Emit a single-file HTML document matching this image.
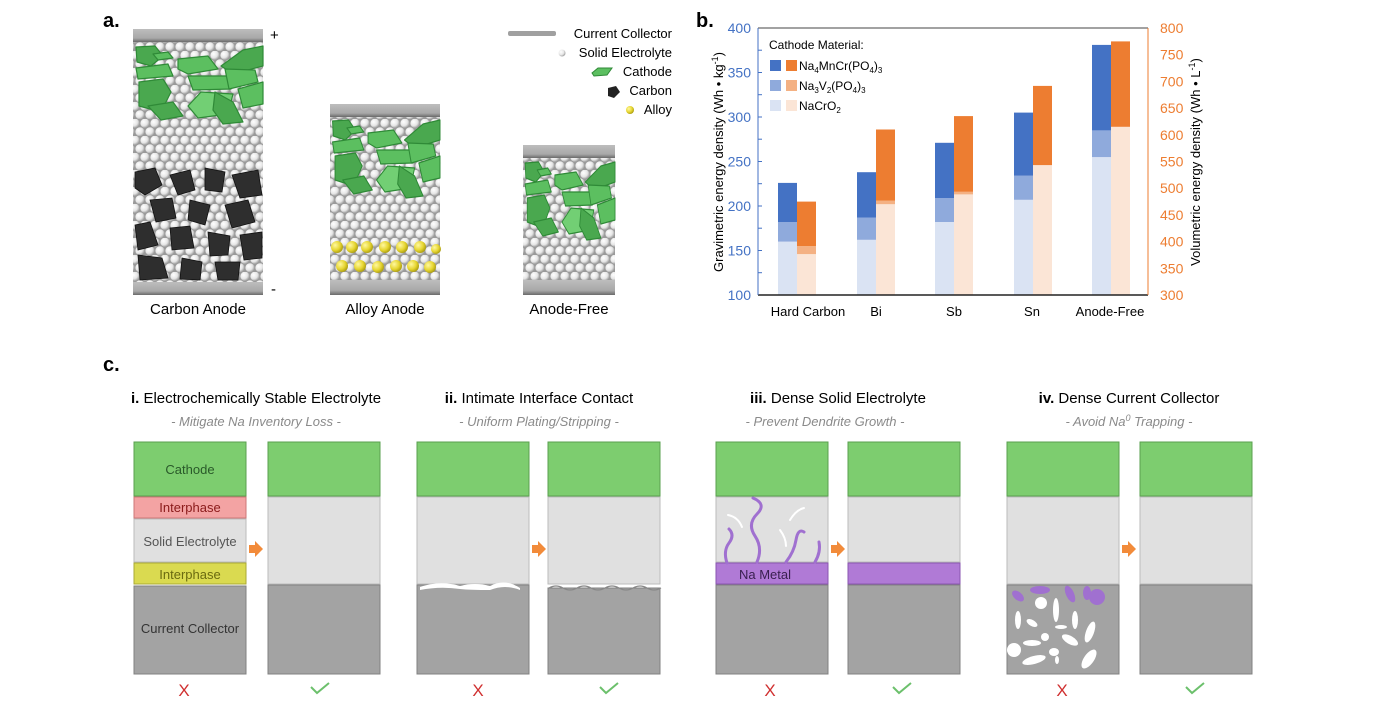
<!DOCTYPE html>
<html><head><meta charset="utf-8"><style>
html,body{margin:0;padding:0;background:#fff;}
svg{display:block;font-family:"Liberation Sans",Arial,sans-serif;}
</style></head><body>
<svg width="1380" height="712" viewBox="0 0 1380 712" xmlns="http://www.w3.org/2000/svg">
<defs>
<radialGradient id="ball" cx="0.35" cy="0.35" r="0.7"><stop offset="0" stop-color="#ffffff"/><stop offset="0.6" stop-color="#e6e6e6"/><stop offset="1" stop-color="#9a9a9a"/></radialGradient>
<radialGradient id="yball" cx="0.35" cy="0.35" r="0.7"><stop offset="0" stop-color="#fff8a0"/><stop offset="0.6" stop-color="#e6d530"/><stop offset="1" stop-color="#a89a10"/></radialGradient>
<pattern id="se" width="10" height="17" patternUnits="userSpaceOnUse">
<rect width="10" height="17" fill="#9a9a9a"/>
<circle cx="5" cy="4.3" r="4.6" fill="url(#ball)"/>
<circle cx="0" cy="12.8" r="4.6" fill="url(#ball)"/>
<circle cx="10" cy="12.8" r="4.6" fill="url(#ball)"/>
</pattern>
<linearGradient id="cc" x1="0" y1="0" x2="0" y2="1"><stop offset="0" stop-color="#bdbdbd"/><stop offset="0.7" stop-color="#a8a8a8"/><stop offset="1" stop-color="#6a6a6a"/></linearGradient>
<g id="cath" fill="#5cbf60" stroke="#2f8a37" stroke-width="1.2" stroke-linejoin="round">
<polygon points="3,3 22,2 30,12 18,22 4,18" fill="#4aa84f"/>
<polygon points="20,10 35,8 40,14 25,16"/>
<polygon points="45,15 75,12 85,25 55,30 45,25"/>
<polygon points="110,6 130,2 130,22 100,30 88,22" fill="#4aa84f"/>
<polygon points="3,24 35,20 40,32 5,35"/>
<polygon points="6,38 30,35 38,48 28,68 6,62" fill="#4aa84f"/>
<polygon points="55,32 95,32 98,45 60,46"/>
<polygon points="68,48 100,50 95,70 65,74 55,62" fill="#72cf74"/>
<polygon points="92,25 122,26 125,38 96,45"/>
<polygon points="82,48 100,58 110,78 90,80 80,66" fill="#4aa84f"/>
<polygon points="105,45 130,38 130,60 110,64"/>
<polygon points="15,62 40,58 50,72 28,76" fill="#4aa84f"/>
</g>
</defs>

<!-- Part a -->
<text x="103" y="27" font-size="20" font-weight="bold">a.</text>
<rect x="133" y="42" width="130" height="240" fill="url(#se)"/>
<use href="#cath" transform="translate(133,44)"/>
<g fill="#2e2e2e" stroke="#111" stroke-width="0.8">
<polygon points="135,172 155,168 162,185 145,195 135,188"/>
<polygon points="170,175 190,170 195,190 178,195"/>
<polygon points="205,168 225,172 222,192 205,190"/>
<polygon points="232,175 258,170 262,195 240,198"/>
<polygon points="150,200 172,198 176,218 156,222"/>
<polygon points="190,200 210,205 205,225 188,220"/>
<polygon points="225,205 248,200 255,222 232,228"/>
<polygon points="135,225 150,222 158,245 138,250"/>
<polygon points="170,228 190,226 194,248 172,250"/>
<polygon points="208,232 230,236 228,255 210,256"/>
<polygon points="240,235 262,232 262,258 244,260"/>
<polygon points="138,255 162,258 168,278 140,280"/>
<polygon points="182,258 202,262 200,280 180,279"/>
<polygon points="215,262 240,262 238,280 218,280"/>
</g>
<rect x="133" y="29" width="130" height="13" fill="url(#cc)"/>
<rect x="133" y="282" width="130" height="13" fill="url(#cc)"/>
<text x="270" y="40" font-size="15">+</text>
<text x="271" y="294" font-size="15">-</text>
<text x="198" y="314" font-size="15" text-anchor="middle">Carbon Anode</text>

<rect x="330" y="117" width="110" height="163" fill="url(#se)"/>
<use href="#cath" transform="translate(330,118) scale(0.846,1)"/>
<g fill="url(#yball)">
<circle cx="337" cy="247" r="6"/><circle cx="352" cy="247" r="6"/><circle cx="367" cy="247" r="6"/><circle cx="385" cy="247" r="6"/><circle cx="402" cy="247" r="6"/><circle cx="420" cy="247" r="6"/><circle cx="436" cy="249" r="5"/>
<circle cx="342" cy="266" r="6"/><circle cx="360" cy="266" r="6"/><circle cx="378" cy="267" r="6"/><circle cx="396" cy="266" r="6"/><circle cx="413" cy="266" r="6"/><circle cx="430" cy="267" r="6"/>
</g>
<rect x="330" y="104" width="110" height="13" fill="url(#cc)"/>
<rect x="330" y="280" width="110" height="15" fill="url(#cc)"/>
<text x="385" y="314" font-size="15" text-anchor="middle">Alloy Anode</text>

<rect x="523" y="158" width="92" height="122" fill="url(#se)"/>
<use href="#cath" transform="translate(523,160) scale(0.708,1)"/>
<rect x="523" y="145" width="92" height="13" fill="url(#cc)"/>
<rect x="523" y="280" width="92" height="15" fill="url(#cc)"/>
<text x="569" y="314" font-size="15" text-anchor="middle">Anode-Free</text>

<rect x="508" y="31" width="48" height="5" rx="2" fill="#a0a0a0"/>
<text x="672" y="38" font-size="13" text-anchor="end">Current Collector</text>
<circle cx="562" cy="53" r="3.5" fill="url(#ball)"/>
<text x="672" y="57" font-size="13" text-anchor="end">Solid Electrolyte</text>
<polygon points="592,73 598,68 612,68 607,75 594,76" fill="#5cbf60" stroke="#2f8a37"/>
<text x="672" y="76" font-size="13" text-anchor="end">Cathode</text>
<polygon points="608,88 616,86 620,92 614,98 608,96" fill="#222"/>
<text x="672" y="95" font-size="13" text-anchor="end">Carbon</text>
<circle cx="630" cy="110" r="4" fill="url(#yball)"/>
<text x="672" y="114" font-size="13" text-anchor="end">Alloy</text>

<!-- Part b chart -->
<text x="696" y="27" font-size="20" font-weight="bold">b.</text>
<g>
<rect x="778" y="241.6" width="19" height="53.4" fill="#dae3f3"/><rect x="778" y="222" width="19" height="19.6" fill="#8faadc"/><rect x="778" y="182.9" width="19" height="39.1" fill="#4472c4"/>
<rect x="797" y="254.1" width="19" height="40.9" fill="#fbe5d6"/><rect x="797" y="246.1" width="19" height="8" fill="#f4b183"/><rect x="797" y="201.6" width="19" height="44.5" fill="#ed7d31"/>
<rect x="857" y="239.8" width="19" height="55.2" fill="#dae3f3"/><rect x="857" y="217.6" width="19" height="22.2" fill="#8faadc"/><rect x="857" y="172.2" width="19" height="45.4" fill="#4472c4"/>
<rect x="876" y="204.2" width="19" height="90.8" fill="#fbe5d6"/><rect x="876" y="200.7" width="19" height="3.5" fill="#f4b183"/><rect x="876" y="129.5" width="19" height="71.2" fill="#ed7d31"/>
<rect x="935" y="222" width="19" height="73" fill="#dae3f3"/><rect x="935" y="198" width="19" height="24" fill="#8faadc"/><rect x="935" y="142.8" width="19" height="55.2" fill="#4472c4"/>
<rect x="954" y="194.4" width="19" height="100.6" fill="#fbe5d6"/><rect x="954" y="191.8" width="19" height="2.6" fill="#f4b183"/><rect x="954" y="116.1" width="19" height="75.7" fill="#ed7d31"/>
<rect x="1014" y="199.8" width="19" height="95.2" fill="#dae3f3"/><rect x="1014" y="175.7" width="19" height="24.1" fill="#8faadc"/><rect x="1014" y="112.6" width="19" height="63.1" fill="#4472c4"/>
<rect x="1033" y="165.1" width="19" height="129.9" fill="#fbe5d6"/><rect x="1033" y="85.9" width="19" height="79.2" fill="#ed7d31"/>
<rect x="1092" y="157.1" width="19" height="137.9" fill="#dae3f3"/><rect x="1092" y="130.4" width="19" height="26.7" fill="#8faadc"/><rect x="1092" y="44.9" width="19" height="85.5" fill="#4472c4"/>
<rect x="1111" y="126.8" width="19" height="168.2" fill="#fbe5d6"/><rect x="1111" y="41.4" width="19" height="85.4" fill="#ed7d31"/>
</g>
<line x1="758" y1="28" x2="1148" y2="28" stroke="#444" stroke-width="1"/>
<line x1="758" y1="295" x2="1148" y2="295" stroke="#222" stroke-width="1.5"/>
<line x1="758" y1="28" x2="758" y2="295" stroke="#4472c4" stroke-width="1"/>
<line x1="1148" y1="28" x2="1148" y2="295" stroke="#ed7d31" stroke-width="1"/>
<g stroke="#4472c4"><line x1="758" y1="50.2" x2="762" y2="50.2"/><line x1="758" y1="72.5" x2="762" y2="72.5"/><line x1="758" y1="94.7" x2="762" y2="94.7"/><line x1="758" y1="117" x2="762" y2="117"/><line x1="758" y1="139.2" x2="762" y2="139.2"/><line x1="758" y1="161.5" x2="762" y2="161.5"/><line x1="758" y1="183.7" x2="762" y2="183.7"/><line x1="758" y1="206" x2="762" y2="206"/><line x1="758" y1="228.2" x2="762" y2="228.2"/><line x1="758" y1="250.5" x2="762" y2="250.5"/><line x1="758" y1="272.7" x2="762" y2="272.7"/></g>
<g fill="#4472c4" font-size="14" text-anchor="end">
<text x="751" y="33">400</text><text x="751" y="77.5">350</text><text x="751" y="122">300</text><text x="751" y="166.5">250</text><text x="751" y="211">200</text><text x="751" y="255.5">150</text><text x="751" y="300">100</text>
</g>
<g fill="#ed7d31" font-size="14">
<text x="1160" y="33">800</text><text x="1160" y="59.7">750</text><text x="1160" y="86.4">700</text><text x="1160" y="113.1">650</text><text x="1160" y="139.8">600</text><text x="1160" y="166.5">550</text><text x="1160" y="193.2">500</text><text x="1160" y="219.9">450</text><text x="1160" y="246.6">400</text><text x="1160" y="273.3">350</text><text x="1160" y="300">300</text>
</g>
<text transform="translate(723,162) rotate(-90)" font-size="13" text-anchor="middle">Gravimetric energy density (Wh • kg<tspan dy="-5" font-size="9">-1</tspan><tspan dy="5">)</tspan></text>
<text transform="translate(1200,162) rotate(-90)" font-size="13" text-anchor="middle">Volumetric energy density (Wh • L<tspan dy="-5" font-size="9">-1</tspan><tspan dy="5">)</tspan></text>
<g font-size="13" text-anchor="middle">
<text x="808" y="316">Hard Carbon</text><text x="876" y="316">Bi</text><text x="954" y="316">Sb</text><text x="1032" y="316">Sn</text><text x="1110" y="316">Anode-Free</text>
</g>
<text x="769" y="49" font-size="12">Cathode Material:</text>
<rect x="770" y="60" width="11" height="11" fill="#4472c4"/><rect x="786" y="60" width="11" height="11" fill="#ed7d31"/>
<text x="799" y="70" font-size="12">Na<tspan font-size="8" dy="3">4</tspan><tspan dy="-3">MnCr(PO</tspan><tspan font-size="8" dy="3">4</tspan><tspan dy="-3">)</tspan><tspan font-size="8" dy="3">3</tspan></text>
<rect x="770" y="80" width="11" height="11" fill="#8faadc"/><rect x="786" y="80" width="11" height="11" fill="#f4b183"/>
<text x="799" y="90" font-size="12">Na<tspan font-size="8" dy="3">3</tspan><tspan dy="-3">V</tspan><tspan font-size="8" dy="3">2</tspan><tspan dy="-3">(PO</tspan><tspan font-size="8" dy="3">4</tspan><tspan dy="-3">)</tspan><tspan font-size="8" dy="3">3</tspan></text>
<rect x="770" y="100" width="11" height="11" fill="#dae3f3"/><rect x="786" y="100" width="11" height="11" fill="#fbe5d6"/>
<text x="799" y="110" font-size="12">NaCrO<tspan font-size="8" dy="3">2</tspan></text>

<!-- Part c -->
<text x="103" y="371" font-size="20" font-weight="bold">c.</text>
<g font-size="15" text-anchor="middle">
<text x="256" y="403"><tspan font-weight="bold">i.</tspan> Electrochemically Stable Electrolyte</text>
<text x="539" y="403"><tspan font-weight="bold">ii.</tspan> Intimate Interface Contact</text>
<text x="838" y="403"><tspan font-weight="bold">iii.</tspan> Dense Solid Electrolyte</text>
<text x="1129" y="403"><tspan font-weight="bold">iv.</tspan> Dense Current Collector</text>
</g>
<g font-size="13" font-style="italic" fill="#8a8a8a" text-anchor="middle">
<text x="256" y="426">- Mitigate Na Inventory Loss -</text>
<text x="539" y="426">- Uniform Plating/Stripping -</text>
<text x="825" y="426">- Prevent Dendrite Growth -</text>
<text x="1129" y="426">- Avoid Na<tspan font-size="9" dy="-5">0</tspan><tspan dy="5"> Trapping -</tspan></text>
</g>

<g stroke="#8a8a8a" stroke-width="1">
<rect x="134" y="442" width="112" height="54" fill="#7dcd6f" stroke="#5aa04f"/>
<rect x="134" y="497" width="112" height="21" fill="#f3a3a3" stroke="#c77"/>
<rect x="134" y="519" width="112" height="43" fill="#e0e0e0" stroke="#bbb"/>
<rect x="134" y="563" width="112" height="21" fill="#dada50" stroke="#aa3"/>
<rect x="134" y="586" width="112" height="88" fill="#a3a3a3" stroke="#808080"/>
<rect x="268" y="442" width="112" height="54" fill="#7dcd6f" stroke="#5aa04f"/><rect x="268" y="497" width="112" height="87" fill="#e0e0e0" stroke="#bbb"/><rect x="268" y="585" width="112" height="89" fill="#a3a3a3" stroke="#808080"/>
<rect x="417" y="442" width="112" height="54" fill="#7dcd6f" stroke="#5aa04f"/><rect x="417" y="497" width="112" height="87" fill="#e0e0e0" stroke="#bbb"/><rect x="417" y="585" width="112" height="89" fill="#a3a3a3" stroke="#808080"/>
<rect x="548" y="442" width="112" height="54" fill="#7dcd6f" stroke="#5aa04f"/><rect x="548" y="497" width="112" height="87" fill="#e0e0e0" stroke="#bbb"/><rect x="548" y="588" width="112" height="86" fill="#a3a3a3" stroke="#808080"/>
<rect x="716" y="442" width="112" height="54" fill="#7dcd6f" stroke="#5aa04f"/><rect x="716" y="497" width="112" height="65" fill="#e0e0e0" stroke="#bbb"/><rect x="716" y="563" width="112" height="21" fill="#b07ad6" stroke="#8a55b0"/><rect x="716" y="585" width="112" height="89" fill="#a3a3a3" stroke="#808080"/>
<rect x="848" y="442" width="112" height="54" fill="#7dcd6f" stroke="#5aa04f"/><rect x="848" y="497" width="112" height="65" fill="#e0e0e0" stroke="#bbb"/><rect x="848" y="563" width="112" height="21" fill="#b07ad6" stroke="#8a55b0"/><rect x="848" y="585" width="112" height="89" fill="#a3a3a3" stroke="#808080"/>
<rect x="1007" y="442" width="112" height="54" fill="#7dcd6f" stroke="#5aa04f"/><rect x="1007" y="497" width="112" height="87" fill="#e0e0e0" stroke="#bbb"/><rect x="1007" y="585" width="112" height="89" fill="#a3a3a3" stroke="#808080"/>
<rect x="1140" y="442" width="112" height="54" fill="#7dcd6f" stroke="#5aa04f"/><rect x="1140" y="497" width="112" height="87" fill="#e0e0e0" stroke="#bbb"/><rect x="1140" y="585" width="112" height="89" fill="#a3a3a3" stroke="#808080"/>
</g>
<path d="M420,587 Q440,580 460,586 Q475,582 490,586 Q505,578 520,588 L520,590 Q505,584 490,590 Q470,590 460,589 Q440,586 420,590 Z" fill="#fff"/>
<path d="M549,588 q7,-4 14,0 t14,0 t14,0 t14,0 t14,0 t14,0 t14,0 t14,0" fill="none" stroke="#888" stroke-width="1.2"/>
<g fill="none" stroke="#a070d0" stroke-width="3" stroke-linecap="round">
<path d="M727,563 q-4,-12 2,-20 t0,-14"/>
<path d="M757,562 q6,-14 -2,-26 t2,-22 t-4,-16"/>
<path d="M786,562 q8,-10 10,-22 t8,-8"/>
<path d="M815,562 q6,-10 4,-20"/>
</g>
<g fill="none" stroke="#fff" stroke-width="2" stroke-linecap="round">
<path d="M728,515 q10,2 14,12"/><path d="M790,520 q6,-10 14,-12"/><path d="M780,530 q6,8 6,16"/>
</g>
<g font-size="13" text-anchor="middle">
<text x="190" y="474" fill="#2a5a2a">Cathode</text>
<text x="190" y="512" fill="#8a1a1a">Interphase</text>
<text x="190" y="546" fill="#555">Solid Electrolyte</text>
<text x="190" y="579" fill="#6a6a10">Interphase</text>
<text x="190" y="633" fill="#333">Current Collector</text>
<text x="765" y="579" fill="#3a2050">Na Metal</text>
</g>
<g fill="#fff">
<ellipse cx="1041" cy="603" rx="6" ry="6"/><ellipse cx="1056" cy="610" rx="3" ry="12"/><ellipse cx="1018" cy="620" rx="3" ry="9"/><ellipse cx="1032" cy="623" rx="6" ry="3" transform="rotate(30 1032 623)"/>
<ellipse cx="1061" cy="627" rx="6" ry="2"/><ellipse cx="1075" cy="620" rx="3" ry="9"/><ellipse cx="1090" cy="632" rx="4" ry="11" transform="rotate(20 1090 632)"/>
<ellipse cx="1045" cy="637" rx="4" ry="4"/><ellipse cx="1070" cy="640" rx="9" ry="4" transform="rotate(30 1070 640)"/>
<ellipse cx="1014" cy="650" rx="7" ry="7"/><ellipse cx="1032" cy="643" rx="9" ry="3"/><ellipse cx="1034" cy="660" rx="12" ry="4" transform="rotate(-15 1034 660)"/>
<ellipse cx="1054" cy="652" rx="5" ry="4"/><ellipse cx="1057" cy="660" rx="2" ry="4"/><ellipse cx="1089" cy="659" rx="5" ry="11" transform="rotate(35 1089 659)"/>
</g>
<g fill="#a070d0">
<ellipse cx="1018" cy="596" rx="7" ry="4" transform="rotate(40 1018 596)"/><ellipse cx="1040" cy="590" rx="10" ry="4"/><ellipse cx="1070" cy="594" rx="4" ry="9" transform="rotate(-25 1070 594)"/><ellipse cx="1097" cy="597" rx="8" ry="8"/><ellipse cx="1087" cy="593" rx="4" ry="7"/>
</g>
<g fill="#f28b3a">
<polygon points="249,545 255,545 255,541 263,549 255,557 255,553 249,553"/>
<polygon points="532,545 538,545 538,541 546,549 538,557 538,553 532,553"/>
<polygon points="831,545 837,545 837,541 845,549 837,557 837,553 831,553"/>
<polygon points="1122,545 1128,545 1128,541 1136,549 1128,557 1128,553 1122,553"/>
</g>
<g font-size="17" text-anchor="middle" fill="#d03030">
<text x="184" y="696">X</text><text x="478" y="696">X</text><text x="770" y="696">X</text><text x="1062" y="696">X</text>
</g>
<g fill="none" stroke="#6cc06c" stroke-width="2">
<path d="M311,687 l6,6 l12,-10"/><path d="M600,687 l6,6 l12,-10"/><path d="M893,687 l6,6 l12,-10"/><path d="M1186,687 l6,6 l12,-10"/>
</g>
</svg>
</body></html>
